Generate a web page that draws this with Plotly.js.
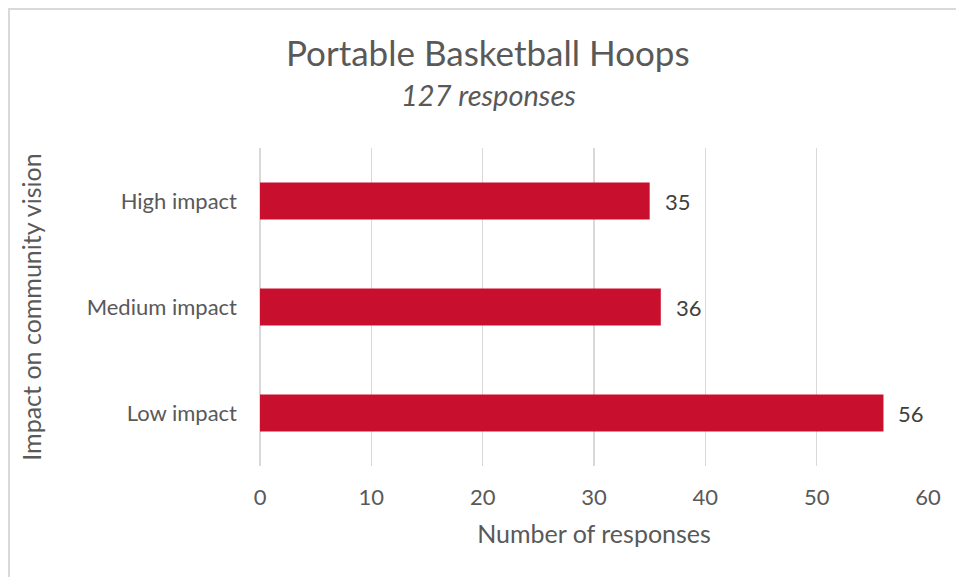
<!DOCTYPE html>
<html>
<head>
<meta charset="utf-8">
<script src="https://cdn.plot.ly/plotly-3.0.1.min.js"></script>
<style>
html,body{margin:0;padding:0;background:#fff;}
#wrap{position:relative;width:956px;height:577px;}
#chart{position:absolute;left:0;top:0;width:956px;height:577px;}
#frame{position:absolute;left:8px;top:8px;width:960px;height:600px;border-left:2px solid #d9d9d9;border-top:2px solid #d9d9d9;pointer-events:none;box-sizing:border-box;}
</style>
</head>
<body>
<div id="wrap"><div id="chart"></div><div id="frame"></div></div>
<script>
const categories = ["Low impact", "Medium impact", "High impact"];
const responses = [56, 36, 35];
const xTicks = [0, 10, 20, 30, 40, 50, 60];
const chartTitle = "Portable Basketball Hoops";
const chartSubtitle = "127 responses";
const xTitle = "Number of responses";
const yTitle = "Impact on community vision";

const FONT = "Lato, 'Open Sans', sans-serif";
const GREY = "#595959";

const trace = {
  type: "bar",
  orientation: "h",
  y: categories,
  x: responses,
  width: 0.35,
  marker: {color: "#C8102E"},
  hoverinfo: "none"
};

const labelAnnotations = categories.map((c, i) => ({
  x: responses[i], y: c, xref: "x", yref: "y",
  text: String(responses[i]),
  xanchor: "left", yanchor: "middle", xshift: 13,
  showarrow: false,
  font: {family: FONT, size: 22, color: "#404040"}
}));

const layout = {
  width: 956, height: 577,
  margin: {l: 260, r: 28, t: 148, b: 111},
  paper_bgcolor: "#fff", plot_bgcolor: "#fff",
  showlegend: false,
  font: {family: FONT, color: GREY},
  xaxis: {
    range: [0, 60],
    tickvals: xTicks,
    ticktext: xTicks.map(String),
    showgrid: true, gridcolor: "#d9d9d9", gridwidth: 1.5,
    zeroline: true, zerolinecolor: "#d9d9d9", zerolinewidth: 1.5,
    showline: false, ticks: "",
    ticklabelstandoff: 16,
    tickfont: {family: FONT, size: 22, color: GREY},
    title: {text: xTitle, font: {family: FONT, size: 25, color: GREY}, standoff: 16},
    fixedrange: true
  },
  yaxis: {
    type: "category",
    categoryorder: "array", categoryarray: categories,
    showgrid: false, zeroline: false, showline: false, ticks: "",
    ticklabelstandoff: 22,
    tickfont: {family: FONT, size: 22, color: GREY},
    title: {text: yTitle, font: {family: FONT, size: 25, color: GREY}, standoff: 37},
    fixedrange: true
  },
  annotations: labelAnnotations.concat([
    {text: chartTitle, xref: "paper", yref: "paper", x: (488-260)/668, y: 1 + (148-52)/318, xanchor: "center", yanchor: "middle", showarrow: false, font: {family: FONT, size: 35, color: GREY}},
    {text: "<i>" + chartSubtitle + "</i>", xref: "paper", yref: "paper", x: (488-260)/668, y: 1 + (148-95)/318, xanchor: "center", yanchor: "middle", showarrow: false, font: {family: FONT, size: 29, color: GREY}}
  ])
};

Plotly.newPlot("chart", [trace], layout, {displayModeBar: false, staticPlot: true});
</script>
</body>
</html>
